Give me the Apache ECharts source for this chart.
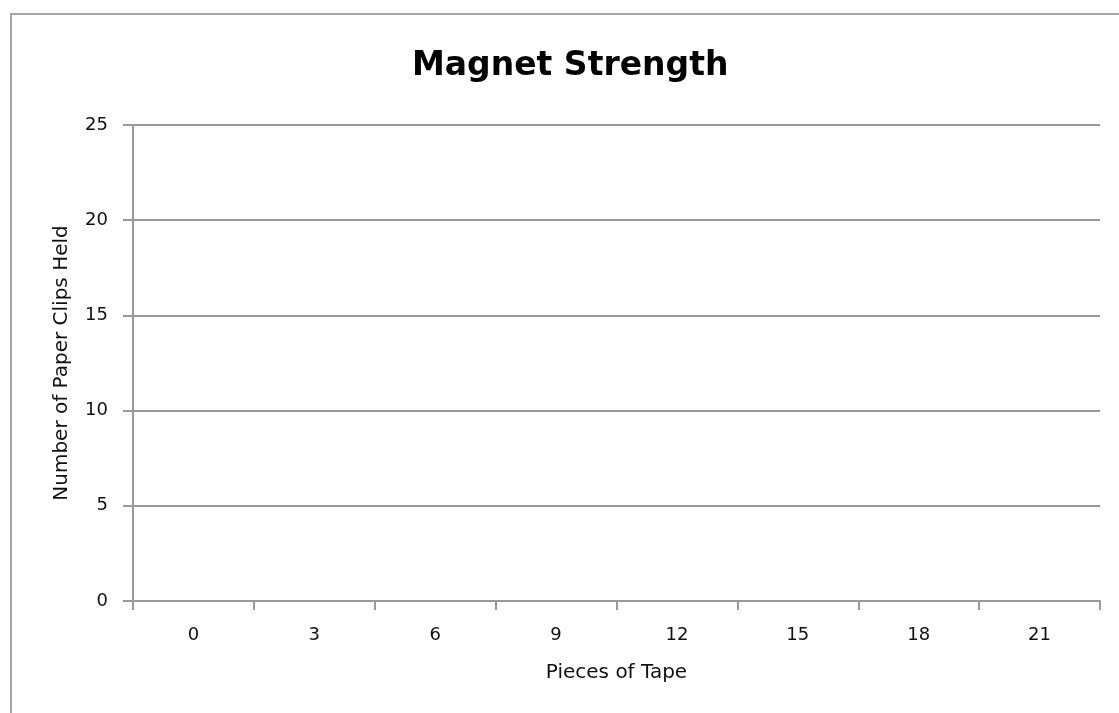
<!DOCTYPE html>
<html>
<head>
<meta charset="utf-8">
<script src="https://cdn.jsdelivr.net/npm/echarts@6/dist/echarts.min.js"></script>
<style>html,body{margin:0;padding:0;background:#fff}#c{width:1119px;height:713px}</style>
</head>
<body>
<div id="c"></div>
<script>
const titleText = 'Magnet Strength';
const piecesOfTape = ['0', '3', '6', '9', '12', '15', '18', '21'];
const clipsHeld = [];
const yTicks = [0, 5, 10, 15, 20, 25];

const chart = echarts.init(document.getElementById('c'));
const tickFont = { fontFamily: 'DejaVu Sans', fontSize: 18, color: '#111' };
const nameFont = { fontFamily: 'DejaVu Sans', fontSize: 20, color: '#111' };
chart.setOption({
  animation: false,
  backgroundColor: '#fff',
  title: {
    text: titleText, left: 407, top: 45,
    textStyle: { fontFamily: 'DejaVu Sans', fontWeight: 'bold', fontSize: 33, color: '#000' }
  },
  graphic: [{
    type: 'rect', shape: { x: 11, y: 14, width: 1200, height: 800 },
    style: { fill: 'none', stroke: '#a6a6a6', lineWidth: 2 }, silent: true
  }],
  grid: { left: 133, right: 19, top: 125, bottom: 112, containLabel: false },
  xAxis: {
    type: 'category', data: piecesOfTape, boundaryGap: true,
    name: 'Pieces of Tape', nameLocation: 'middle', nameGap: 62,
    nameTextStyle: nameFont,
    axisLine: { lineStyle: { color: '#999', width: 2 } },
    axisTick: { show: true, length: 9, lineStyle: { color: '#999', width: 2 } },
    axisLabel: Object.assign({ margin: 25 }, tickFont),
    splitLine: { show: false }
  },
  yAxis: {
    type: 'value', min: yTicks[0], max: yTicks[yTicks.length - 1], interval: 5,
    name: 'Number of Paper Clips Held', nameLocation: 'middle', nameGap: 61, nameRotate: 90,
    nameTextStyle: nameFont,
    axisLine: { show: true, lineStyle: { color: '#999', width: 2 } },
    axisTick: { show: true, length: 10, inside: false, lineStyle: { color: '#999', width: 2 } },
    axisLabel: Object.assign({ margin: 25 }, tickFont),
    splitLine: { show: true, lineStyle: { color: '#999', width: 2 } }
  },
  series: [{ type: 'line', data: clipsHeld }]
});
</script>
</body>
</html>
